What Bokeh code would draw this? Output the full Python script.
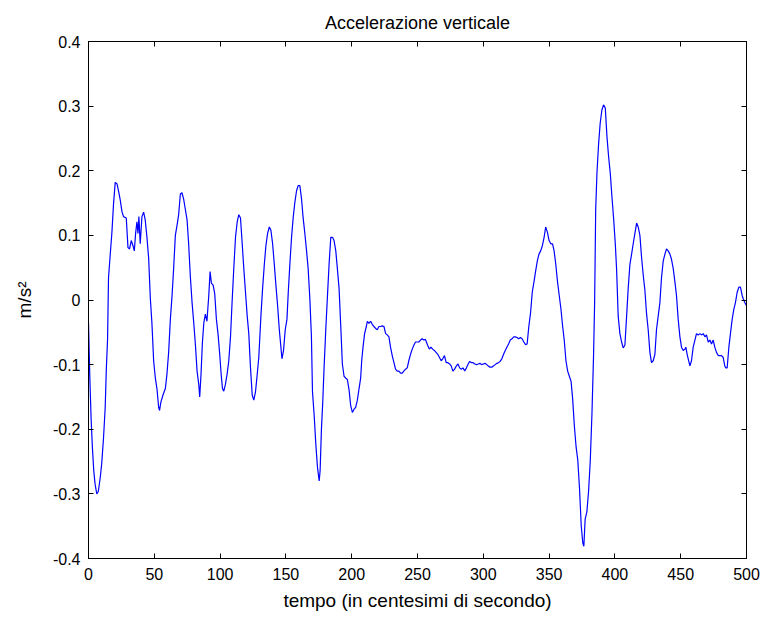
from bokeh.plotting import figure
from bokeh.models import LinearAxis, FixedTicker, Range1d
from bokeh.embed import file_html
from bokeh.resources import INLINE

# Digitized signal: time (hundredths of a second) and vertical acceleration (m/s^2)
t = [0, 1, 2, 3, 4, 5, 6.3, 7.5, 8.9, 10, 11.4, 12.7, 13.5, 14.5, 15.2, 16.5, 17.8, 19, 20.3, 21.6,
     22.8, 24, 25.4, 26.6, 28.7, 30, 31.2, 32.5, 33.8, 34.8, 35.8, 36.8, 37.6, 38.3, 39.3, 40.6,
     41.9, 43.1, 44.4, 45.7, 47, 48.2, 49.5, 50.8, 52, 53.3, 54, 55, 56.6, 58.4, 59.6, 60.9, 62.2,
     63.5, 64.7, 66, 67.3, 68.5, 69.8, 71, 72.3, 73.6, 74.9, 76.1, 77.4, 78.7, 80, 81.2, 82.5, 83.8,
     84.5, 85.5, 86.5, 87.6, 88.8, 90, 91.4, 92.4, 93.4, 94.7, 95.9, 97.2, 98.5, 99.7, 100.8, 101.8,
     102.8, 104, 105.3, 106.6, 107.9, 109.1, 110.4, 111.7, 113, 114.2, 115.5, 116.8, 118, 119.3,
     120.6, 121.8, 123.1, 124.4, 125.6, 126.9, 128.2, 129.4, 131, 132.3, 133.6, 134.8, 136.1, 137.4,
     138.6, 139.9, 141.2, 142.4, 143.7, 145, 146.2, 147, 148.2, 149.5, 150.8, 151.8, 153, 154.3,
     155.6, 156.8, 158.1, 159.3, 160.6, 161.9, 163.1, 164.4, 165.7, 166.9, 168.2, 169.4, 170.2,
     171.5, 172.7, 174, 175.3, 176, 177, 178, 179, 180.3, 181.6, 182.8, 184.1, 185.4, 186.6, 187.9,
     189.1, 190.4, 191.7, 192.9, 194.2, 195.5, 196.7, 198, 199.2, 200.5, 201.8, 203, 204.3, 205.6,
     206.8, 207.6, 208.6, 209.8, 211.1, 211.9, 213.1, 214.4, 215.7, 216.9, 218.2, 219.4, 220.7, 222,
     223.2, 224.5, 225.8, 227, 228.3, 229.5, 230.8, 232.1, 233.3, 234.6, 235.9, 237.1, 238.4, 239.6,
     240.9, 242.2, 243.4, 244.7, 246, 247.2, 248.5, 249.7, 251, 252.3, 253.5, 254.8, 256, 257.7, 259,
     260.3, 261.5, 262.8, 264.1, 265.4, 266.7, 268, 269.2, 270.5, 271.8, 273.1, 274.4, 275.6, 276.9,
     278.2, 279.5, 280.8, 282, 283.3, 284.6, 285.9, 287.2, 288.5, 289.7, 291, 292.3, 293.6, 294.9,
     296.2, 297.4, 298.7, 300, 301.3, 302.6, 303.8, 305.1, 306.4, 307.7, 309, 310.3, 311.5, 312.8,
     314.1, 315.4, 316.7, 317.9, 319.2, 320.5, 321.8, 323.1, 324.4, 325.6, 326.9, 328.2, 329.5,
     330.8, 332.1, 333.3, 334.6, 335.9, 337.2, 338.5, 339.7, 341, 342.3, 343.6, 344.9, 346.2, 347.4,
     348.7, 350, 351.3, 352.6, 353.8, 355.1, 356.4, 357.7, 359, 360.3, 361.5, 362.8, 364.1, 365.4,
     366.7, 367.9, 369.2, 370.5, 371.8, 373.1, 374.4, 375.6, 376.4, 377.4, 378.7, 380, 381.3, 382.6,
     383.8, 384.6, 385.4, 386.4, 387.6, 388.8, 390.1, 391.4, 392.7, 394, 395.2, 396.5, 397.7, 399,
     400.3, 401.3, 402.5, 403.8, 405.1, 406.3, 407.6, 408.9, 410.1, 411.4, 412.7, 413.9, 415.2, 416.5,
     417.7, 419, 420.3, 421.5, 422.8, 424, 425.3, 426.6, 427.8, 429.1, 430.4, 431.6, 432.9, 434.2,
     435.4, 436.7, 438, 439.2, 440.5, 441.8, 443, 444.3, 445.6, 446.8, 448.1, 449.4, 450.6, 451.9,
     453.2, 453.9, 454.9, 455.7, 457, 458.2, 459.5, 460.8, 462, 463.3, 464.6, 465.8, 467.1, 468.4,
     469.6, 470.9, 472.2, 473.4, 474.7, 475.9, 477.2, 478.5, 479.7, 481, 482.3, 483.5, 484.3, 485.3,
     486.6, 487.8, 489.1, 490.4, 491.6, 492.9, 494.2, 495.4, 496.7, 497.5, 498.7, 500]
acc = [-0.035, -0.12, -0.185, -0.23, -0.264, -0.285, -0.30, -0.296, -0.275, -0.254, -0.214, -0.166,
       -0.11, -0.06, 0.034, 0.07, 0.105, 0.148, 0.182, 0.18, 0.169, 0.156, 0.137, 0.129, 0.127,
       0.081, 0.079, 0.092, 0.084, 0.076, 0.103, 0.121, 0.103, 0.129, 0.087, 0.129, 0.136, 0.124,
       0.097, 0.065, 0.002, -0.036, -0.094, -0.121, -0.137, -0.166, -0.171, -0.158, -0.147, -0.137,
       -0.115, -0.081, -0.03, 0.007, 0.049, 0.1, 0.116, 0.132, 0.164, 0.166, 0.156, 0.14, 0.124,
       0.087, 0.036, -0.004, -0.036, -0.068, -0.11, -0.131, -0.15, -0.115, -0.068, -0.036, -0.022,
       -0.033, 0.007, 0.044, 0.026, 0.023, 0.01, -0.03, -0.054, -0.084, -0.115, -0.137, -0.141,
       -0.131, -0.115, -0.094, -0.057, -0.004, 0.049, 0.097, 0.121, 0.132, 0.127, 0.087, 0.049,
       0.012, -0.025, -0.052, -0.105, -0.147, -0.155, -0.142, -0.115, -0.089, -0.025, 0.018, 0.055,
       0.084, 0.103, 0.113, 0.108, 0.087, 0.055, 0.023, -0.009, -0.046, -0.073, -0.091, -0.078,
       -0.046, -0.03, 0.012, 0.055, 0.097, 0.129, 0.151, 0.169, 0.177, 0.177, 0.156, 0.127, 0.103,
       0.076, 0.049, 0.002, -0.057, -0.142, -0.179, -0.222, -0.259, -0.28, -0.264, -0.2, -0.158,
       -0.105, -0.046, 0.007, 0.055, 0.097, 0.097, 0.092, 0.076, 0.049, 0.018, -0.041, -0.099,
       -0.118, -0.121, -0.123, -0.139, -0.163, -0.174, -0.169, -0.166, -0.155, -0.137, -0.121,
       -0.094, -0.073, -0.052, -0.041, -0.033, -0.036, -0.033, -0.038, -0.041, -0.044, -0.046,
       -0.041, -0.041, -0.04, -0.041, -0.052, -0.054, -0.057, -0.073, -0.086, -0.097, -0.107, -0.11,
       -0.11, -0.113, -0.113, -0.11, -0.107, -0.105, -0.094, -0.084, -0.076, -0.07, -0.065, -0.065,
       -0.065, -0.062, -0.06, -0.062, -0.061, -0.07, -0.076, -0.073, -0.076, -0.078, -0.081, -0.084,
       -0.089, -0.094, -0.091, -0.086, -0.097, -0.097, -0.099, -0.102, -0.11, -0.107, -0.102,
       -0.099, -0.105, -0.107, -0.105, -0.11, -0.105, -0.099, -0.095, -0.097, -0.097, -0.099, -0.1,
       -0.099, -0.098, -0.1, -0.099, -0.098, -0.1, -0.102, -0.104, -0.104, -0.102, -0.1, -0.098,
       -0.097, -0.095, -0.091, -0.084, -0.078, -0.073, -0.068, -0.062, -0.06, -0.057, -0.057,
       -0.058, -0.06, -0.058, -0.06, -0.065, -0.069, -0.068, -0.041, -0.02, 0.012, 0.028, 0.044,
       0.06, 0.071, 0.076, 0.084, 0.097, 0.113, 0.105, 0.092, 0.087, 0.087, 0.076, 0.055, 0.028,
       0.007, -0.014, -0.041, -0.062, -0.094, -0.11, -0.118, -0.126, -0.153, -0.195, -0.227,
       -0.248, -0.291, -0.349, -0.376, -0.381, -0.339, -0.328, -0.296, -0.248, -0.174, -0.084,
       -0.004, 0.14, 0.198, 0.241, 0.273, 0.294, 0.302, 0.297, 0.252, 0.222, 0.196, 0.161, 0.127,
       0.087, 0.047, -0.025, -0.052, -0.065, -0.074, -0.07, -0.025, 0.018, 0.055, 0.071, 0.087,
       0.103, 0.119, 0.113, 0.1, 0.065, 0.039, 0.015, -0.02, -0.046, -0.081, -0.097, -0.094, -0.084,
       -0.046, -0.025, -0.004, 0.034, 0.06, 0.071, 0.079, 0.076, 0.071, 0.063, 0.049, 0.028, 0.007,
       -0.03, -0.057, -0.073, -0.078, -0.076, -0.073, -0.084, -0.091, -0.102, -0.094, -0.073,
       -0.062, -0.052, -0.054, -0.052, -0.054, -0.052, -0.057, -0.054, -0.065, -0.062, -0.068,
       -0.062, -0.073, -0.081, -0.086, -0.086, -0.086, -0.089, -0.102, -0.105, -0.105, -0.073,
       -0.052, -0.03, -0.014, -0.004, 0.012, 0.02, 0.02, 0.007, 0.002, -0.004, -0.009, -0.02]

x_ticks = [0, 50, 100, 150, 200, 250, 300, 350, 400, 450, 500]
y_ticks = [-0.4, -0.3, -0.2, -0.1, 0, 0.1, 0.2, 0.3, 0.4]
y_tick_labels = ["-0.4", "-0.3", "-0.2", "-0.1", "0", "0.1", "0.2", "0.3", "0.4"]

FONT = "Liberation Sans"

p = figure(width=765, height=617, output_backend="svg", toolbar_location=None,
           x_range=Range1d(0, 500), y_range=Range1d(-0.4, 0.4),
           min_border_left=88, min_border_right=19, min_border_top=41, min_border_bottom=59,
           title="Accelerazione verticale")
p.title.align = "center"
p.title.text_font = FONT
p.title.text_font_size = "18px"
p.title.text_font_style = "normal"
p.title.text_color = "black"
p.title.standoff = 18

p.line(t, acc, line_color="#0000FF", line_width=1.2)

p.xgrid.visible = False
p.ygrid.visible = False
p.outline_line_color = "black"
p.outline_line_width = 1
p.background_fill_color = "white"
p.border_fill_color = "white"

def style_axis(ax, show_labels=True):
    ax.axis_line_color = "black"
    ax.axis_line_width = 1
    ax.major_tick_in = 5
    ax.major_tick_out = 0
    ax.minor_tick_line_color = None
    ax.major_tick_line_color = "black"
    ax.major_label_text_font = FONT
    ax.major_label_text_font_size = "16px"
    ax.major_label_text_color = "black"
    ax.axis_label_text_font = FONT
    ax.axis_label_text_font_size = "19px"
    ax.axis_label_text_font_style = "normal"
    ax.axis_label_text_color = "black"
    if not show_labels:
        ax.major_label_text_color = None

xa = p.xaxis[0]
xa.ticker = FixedTicker(ticks=x_ticks)
xa.axis_label = "tempo (in centesimi di secondo)"
xa.major_label_standoff = 9
xa.axis_label_standoff = 7
style_axis(xa)

ya = p.yaxis[0]
ya.ticker = FixedTicker(ticks=y_ticks)
ya.major_label_overrides = {v: s for v, s in zip(y_ticks, y_tick_labels)}
ya.axis_label = "m/s²"
ya.major_label_standoff = 8
ya.axis_label_standoff = 15
style_axis(ya)

top = LinearAxis(ticker=FixedTicker(ticks=x_ticks))
style_axis(top, show_labels=False)
p.add_layout(top, "above")
right = LinearAxis(ticker=FixedTicker(ticks=y_ticks))
style_axis(right, show_labels=False)
p.add_layout(right, "right")

open("out.html", "w").write(file_html(p, INLINE))
